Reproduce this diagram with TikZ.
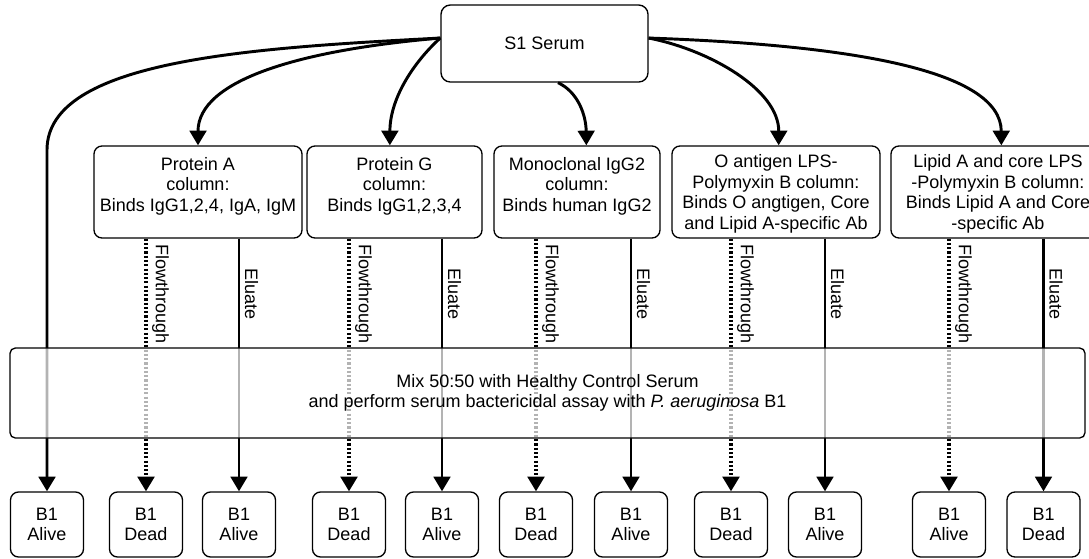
\documentclass[tikz,border=0pt]{standalone}
\usepackage{fontspec}
\setmainfont{Liberation Sans}
\usetikzlibrary{arrows.meta}

\begin{document}
\begin{tikzpicture}[x=0.75pt, y=-0.75pt,
        font=\fontsize{13.5}{15.3}\selectfont,
        box/.style={draw, line width=1pt, rounded corners=6pt, align=center},
        column/.style={box, minimum height=69pt, text depth=-4pt, inner sep=0pt},
        short/.style={text depth=11.3pt},
        result/.style={box, minimum width=54.75pt, minimum height=48.75pt},
        arr/.style={line width=2pt, -{Triangle[length=11pt, width=12.5pt]}},
        flow/.style={arr, line width=2.3pt, dash pattern=on 1.6pt off 1.6pt},
        lbl/.style={rotate=-90, anchor=south, inner sep=3.5pt}]
    \useasboundingbox (0,0) rectangle (1089,558);
    \clip (0,0) rectangle (1089,558);

    % serum
    \node[box, rounded corners=7pt, minimum width=155.25pt, minimum height=57.75pt] (s1) at (544.5,43.5) {S1 Serum};

    % columns
    \node[column, short, minimum width=156pt] (c1) at (198,192) {Protein A\\column:\\Binds IgG1,2,4, IgA, IgM};
    \node[column, short, minimum width=131.25pt] (c2) at (394.5,192) {Protein G\\column:\\Binds IgG1,2,3,4};
    \node[column, short, minimum width=124.5pt] (c3) at (577,192) {Monoclonal IgG2\\column:\\Binds human IgG2};
    \node[column, minimum width=156pt] (c4) at (776,192) {O antigen LPS-\\Polymyxin B column:\\Binds O angtigen, Core\\and Lipid A-specific Ab};
    \node[column, minimum width=160.5pt] (c5) at (998,192) {Lipid A and core LPS\\-Polymyxin B column:\\Binds Lipid A and Core\\-specific Ab};

    % results
    \node[result] (d1) at (47,524.5) {B1\\Alive};
    \node[result] (d2) at (146,524.5) {B1\\Dead};
    \node[result] (d3) at (239,524.5) {B1\\Alive};
    \node[result] (d4) at (349,524.5) {B1\\Dead};
    \node[result] (d5) at (442,524.5) {B1\\Alive};
    \node[result] (d6) at (536,524.5) {B1\\Dead};
    \node[result] (d7) at (631,524.5) {B1\\Alive};
    \node[result] (d8) at (731,524.5) {B1\\Dead};
    \node[result] (d9) at (825,524.5) {B1\\Alive};
    \node[result] (d10) at (949,524.5) {B1\\Alive};
    \node[result] (d11) at (1043.5,524.5) {B1\\Dead};

    % serum to columns
    \draw[arr, line width=2.2pt] (s1.177) .. controls (250,48) and (47,60) .. (47,150) -- (d1.north);
    \draw[arr, line width=2.2pt] (s1.177) .. controls (300,50) and (198,80) .. (c1.north);
    \draw[arr, line width=2.2pt] (s1.177) .. controls (418,58) and (390,95) .. ([xshift=-3.5pt]c2.north);
    \draw[arr, line width=2.2pt] (s1.-71) .. controls (578,92) and (586,115) .. ([xshift=7pt]c3.north);
    \draw[arr, line width=2.2pt] (s1.3) .. controls (710,50) and (779,90) .. ([xshift=2pt]c4.north);
    \draw[arr, line width=2.2pt] (s1.3) .. controls (850,45) and (1001,70) .. ([xshift=2.5pt]c5.north);

    % columns to results
    \draw[flow] (d2.north |- c1.south) -- node[lbl, pos=0.22] {Flowthrough} (d2.north);
    \draw[arr] (d3.north |- c1.south) -- node[lbl, pos=0.22] {Eluate} (d3.north);
    \draw[flow] (d4.north |- c2.south) -- node[lbl, pos=0.22] {Flowthrough} (d4.north);
    \draw[arr] (d5.north |- c2.south) -- node[lbl, pos=0.22] {Eluate} (d5.north);
    \draw[flow] (d6.north |- c3.south) -- node[lbl, pos=0.22] {Flowthrough} (d6.north);
    \draw[arr] (d7.north |- c3.south) -- node[lbl, pos=0.22] {Eluate} (d7.north);
    \draw[flow] (d8.north |- c4.south) -- node[lbl, pos=0.22] {Flowthrough} (d8.north);
    \draw[arr] (d9.north |- c4.south) -- node[lbl, pos=0.22] {Eluate} (d9.north);
    \draw[flow] (d10.north |- c5.south) -- node[lbl, pos=0.22] {Flowthrough} (d10.north);
    \draw[arr] (d11.north |- c5.south) -- node[lbl, pos=0.22] {Eluate} (d11.north);

    % assay, over the lines so they show through pale
    \node[box, rounded corners=4pt, fill=white, fill opacity=0.7, text opacity=1,
        minimum width=806.25pt, minimum height=67.5pt] (mix) at (547.5,393)
        {Mix 50:50 with Healthy Control Serum\\and perform serum bactericidal assay with \textit{P. aeruginosa} B1};
\end{tikzpicture}
\end{document}
